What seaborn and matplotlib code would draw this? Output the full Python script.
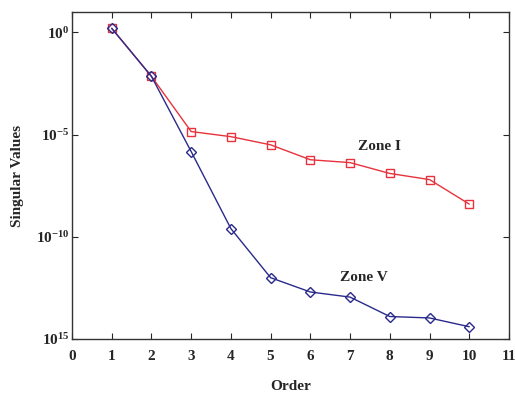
import matplotlib
matplotlib.use("Agg")
import matplotlib.pyplot as plt
import seaborn as sns
import pandas as pd
import numpy as np

order = [1, 2, 3, 4, 5, 6, 7, 8, 9, 10]
zone_i_log = [0.2, -2.15, -4.85, -5.1, -5.5, -6.23, -6.37, -6.9, -7.2, -8.4]
zone_v_log = [0.2, -2.15, -5.83, -9.6, -12.0, -12.7, -12.95, -13.9, -13.97, -14.4]
xticks = list(range(0, 12))
yticks = [1e0, 1e-5, 1e-10, 1e-15]
ytick_labels = [r"$\mathbf{10^{0}}$", r"$\mathbf{10^{-5}}$", r"$\mathbf{10^{-10}}$", r"$\mathbf{10^{15}}$"]

sns.set_style("ticks")
plt.rcParams["font.family"] = ["Liberation Serif", "DejaVu Serif"]
plt.rcParams["mathtext.fontset"] = "custom"
plt.rcParams["mathtext.rm"] = "Liberation Serif"
plt.rcParams["mathtext.it"] = "Liberation Serif"
plt.rcParams["mathtext.bf"] = "Liberation Serif:bold"

df_i = pd.DataFrame({"Order": order, "val": [10 ** v for v in zone_i_log]})
df_v = pd.DataFrame({"Order": order, "val": [10 ** v for v in zone_v_log]})

fig = plt.figure(figsize=(5.15, 3.94), dpi=100)
ax = fig.add_axes([0.1398, 0.1396, 0.8485, 0.83])

sns.lineplot(data=df_i, x="Order", y="val", ax=ax, color="#e8323c", lw=1.0,
             marker="s", markersize=6, markerfacecolor="none",
             markeredgecolor="#e8323c", markeredgewidth=1.0)
sns.lineplot(data=df_v, x="Order", y="val", ax=ax, color="#2a2a8c", lw=1.0,
             marker="D", markersize=5, markerfacecolor="none",
             markeredgecolor="#2a2a8c", markeredgewidth=1.0)

ax.set_yscale("log")
ax.set_xlim(0, 11)
ax.set_ylim(1e-15, 10)
ax.set_xticks(xticks)
ax.set_xticklabels([str(t) for t in xticks], fontsize=11, fontweight="bold")
ax.set_yticks(yticks)
ax.set_yticklabels(ytick_labels, fontsize=11)
ax.yaxis.set_minor_locator(matplotlib.ticker.NullLocator())
ax.tick_params(direction="in", top=True, right=True, length=4, width=0.8)
ax.tick_params(axis="x", pad=8)
ax.tick_params(axis="y", pad=2)
for s in ax.spines.values():
    s.set_linewidth(1.0)
    s.set_color("#333333")

ax.set_xlabel("Order", fontsize=11, fontweight="bold", labelpad=12)
ax.set_ylabel("Singular Values", fontsize=11, fontweight="bold", labelpad=8)

ax.text(7.75, 10 ** -5.6, "Zone I", fontsize=11, fontweight="bold", ha="center", va="center")
ax.text(7.35, 10 ** -12.0, "Zone V", fontsize=11, fontweight="bold", ha="center", va="center")

fig.savefig("out.png", dpi=100)
